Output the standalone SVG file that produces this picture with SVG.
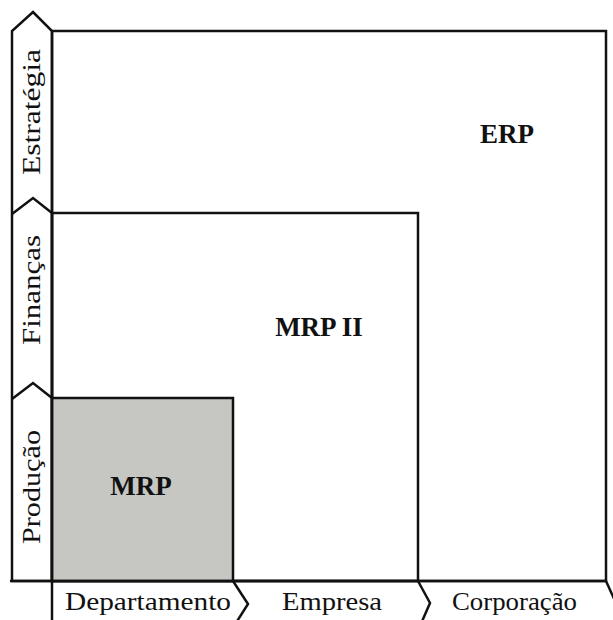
<svg xmlns="http://www.w3.org/2000/svg" width="613" height="620" viewBox="0 0 613 620">
<style>
.ln{fill:none;stroke:#111;stroke-width:2.5;stroke-linejoin:miter}
.lbl{font-family:"Liberation Serif","Times New Roman",serif;font-size:25px;fill:#111}
.sys{font-family:"Liberation Serif","Times New Roman",serif;font-size:27px;font-weight:bold;fill:#111;text-anchor:middle}
</style>
<rect width="613" height="620" fill="#fff"/>
<g id="erp">
<rect class="ln" x="52" y="31" width="554" height="550"/>
<text class="sys" x="507" y="143">ERP</text>
</g>
<g id="mrp2">
<rect class="ln" x="52" y="213" width="366" height="368"/>
<text class="sys" x="319" y="336">MRP II</text>
</g>
<g id="mrp">
<rect class="ln" x="52" y="398" width="181" height="183" style="fill:#c6c6c2"/>
<text class="sys" x="141" y="495">MRP</text>
</g>
<g id="axis-left">
<polygon class="ln" points="12,581 12,31 33,12 52,31 52,581"/>
<polyline class="ln" points="12,214 33,198 52,213"/>
<polyline class="ln" points="12,399 33,383 52,398"/>
<text class="lbl" transform="translate(40,112) rotate(-90)" text-anchor="middle" textLength="126" lengthAdjust="spacingAndGlyphs">Estratégia</text>
<text class="lbl" transform="translate(40,290) rotate(-90)" text-anchor="middle" textLength="110" lengthAdjust="spacingAndGlyphs">Finanças</text>
<text class="lbl" transform="translate(40,487) rotate(-90)" text-anchor="middle" textLength="114" lengthAdjust="spacingAndGlyphs">Produção</text>
</g>
<g id="axis-bottom">
<line class="ln" x1="10" y1="581" x2="606" y2="581"/>
<line class="ln" x1="52" y1="581" x2="52" y2="622"/>
<polyline class="ln" points="233,581 248,604 234,626"/>
<polyline class="ln" points="418,581 430,603 420,626"/>
<polyline class="ln" points="606,581 616,603"/>
<text class="lbl" x="65" y="610" textLength="166" lengthAdjust="spacingAndGlyphs">Departamento</text>
<text class="lbl" x="282" y="610" textLength="100" lengthAdjust="spacingAndGlyphs">Empresa</text>
<text class="lbl" x="452" y="610" textLength="125" lengthAdjust="spacingAndGlyphs">Corporação</text>
</g>
</svg>
